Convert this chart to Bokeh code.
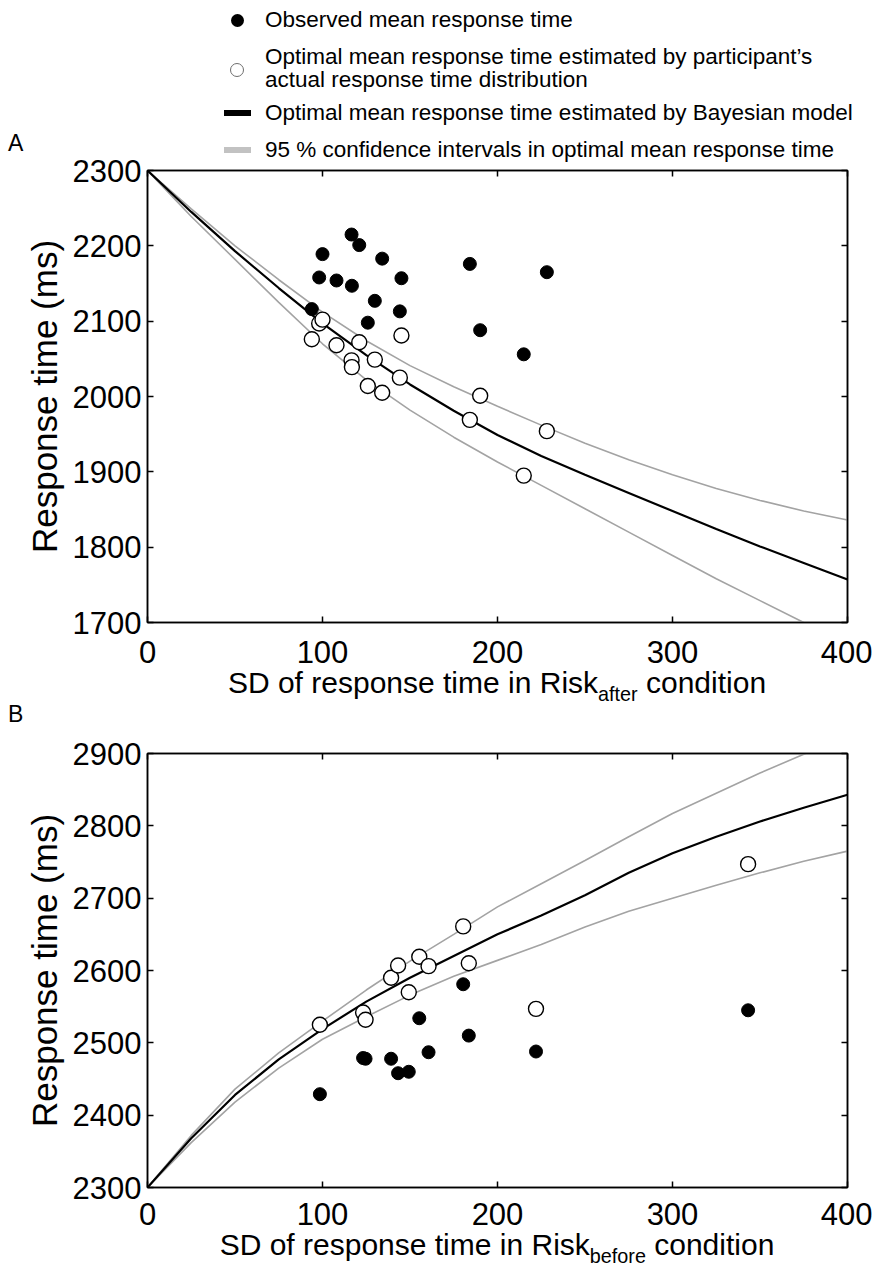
from bokeh.plotting import figure
from bokeh.layouts import column
from bokeh.models import Range1d, LinearAxis, FixedTicker, Div
from bokeh.embed import file_html
from bokeh.resources import INLINE

FONT = "Liberation Sans"

# ---------------- data ----------------
# Panel A: Risk_after
sd_after = [93.9, 98.1, 100.0, 108.0, 116.6, 116.8, 121.0, 125.9, 129.9, 134.1, 144.2, 145.1, 184.2, 190.1, 215.0, 228.2]
obs_after = [2116, 2158, 2189, 2154, 2215, 2147, 2201, 2098, 2127, 2183, 2113, 2157, 2176, 2088, 2056, 2165]
opt_after = [2076, 2097, 2102, 2068, 2048, 2039, 2072, 2014, 2049, 2005, 2025, 2081, 1969, 2001, 1895, 1954]

# Panel B: Risk_before
sd_before = [98.5, 123.2, 124.6, 139.2, 143.2, 149.3, 155.3, 160.6, 180.4, 183.6, 222.0, 343.2]
obs_before = [2429, 2479, 2478, 2478, 2458, 2460, 2534, 2487, 2581, 2510, 2488, 2545]
opt_before = [2525, 2542, 2532, 2590, 2607, 2570, 2619, 2606, 2661, 2610, 2547, 2747]

# model curves (read at SD steps)
curve_sd = [0, 25, 50, 75, 100, 125, 150, 175, 200, 225, 250, 275, 300, 325, 350, 375, 400]
after_model = [2300, 2245, 2193, 2144, 2097, 2055, 2016, 1981, 1949, 1921, 1896, 1872, 1848, 1824, 1801, 1779, 1757]
after_ci_up = [2300, 2249, 2200, 2155, 2112, 2074, 2041, 2013, 1987, 1962, 1938, 1916, 1896, 1878, 1862, 1848, 1836]
after_ci_lo = [2300, 2239, 2182, 2125, 2070, 2022, 1982, 1946, 1913, 1882, 1851, 1820, 1789, 1758, 1729, 1700, 1672]
before_model = [2300, 2368, 2428, 2477, 2519, 2557, 2590, 2620, 2650, 2676, 2704, 2735, 2762, 2785, 2806, 2825, 2843]
before_ci_up = [2300, 2372, 2436, 2486, 2530, 2573, 2613, 2650, 2688, 2720, 2752, 2785, 2817, 2845, 2873, 2899, 2925]
before_ci_lo = [2300, 2362, 2418, 2465, 2505, 2536, 2566, 2592, 2614, 2636, 2660, 2682, 2700, 2718, 2735, 2751, 2765]

x_ticks = [0, 100, 200, 300, 400]
after_ticks = [1700, 1800, 1900, 2000, 2100, 2200, 2300]
before_ticks = [2300, 2400, 2500, 2600, 2700, 2800, 2900]

legend_labels = [
    "Observed mean response time",
    "Optimal mean response time estimated by participant\u2019s",
    "actual response time distribution",
    "Optimal mean response time estimated by Bayesian model",
    "95 % confidence intervals in optimal mean response time",
]

GRAY = "#a3a3a3"
W = 872
LEFT = 147
FRAME_W = 700


def style_axis(ax, ticks, show_labels):
    ax.ticker = FixedTicker(ticks=ticks)
    ax.major_tick_in = 6
    ax.major_tick_out = 0
    ax.minor_tick_line_color = None
    ax.axis_line_width = 1.5
    ax.major_tick_line_width = 1.5
    ax.major_label_text_font = FONT
    ax.major_label_text_font_size = "31px"
    ax.major_label_text_color = "black"
    if not show_labels:
        ax.major_label_overrides = {t: "" for t in ticks}
        ax.major_label_standoff = 0


def panel(model, up, lo, sd, obs, opt, yr, yticks, top, frame_h, bottom, x_standoff):
    p = figure(width=W, height=top + frame_h + bottom, title=None,
               x_range=Range1d(0, 400), y_range=Range1d(*yr),
               output_backend="svg", toolbar_location=None,
               min_border_left=LEFT, min_border_right=W - LEFT - FRAME_W,
               min_border_top=top, min_border_bottom=bottom)
    p.border_fill_color = None
    p.background_fill_color = "white"
    p.grid.visible = False
    p.outline_line_color = "black"
    p.outline_line_width = 1.5
    style_axis(p.xaxis[0], x_ticks, True)
    p.xaxis[0].major_label_standoff = x_standoff
    style_axis(p.yaxis[0], yticks, True)
    p.yaxis[0].major_label_standoff = 6
    p.yaxis[0].axis_label = "Response time (ms)"
    p.yaxis[0].axis_label_text_font = FONT
    p.yaxis[0].axis_label_text_font_size = "35px"
    p.yaxis[0].axis_label_text_font_style = "normal"
    p.yaxis[0].axis_label_text_color = "black"
    p.yaxis[0].axis_label_standoff = 6
    ra = LinearAxis()
    style_axis(ra, yticks, False)
    p.add_layout(ra, "right")
    ta = LinearAxis()
    style_axis(ta, x_ticks, False)
    p.add_layout(ta, "above")

    p.line(curve_sd, up, line_color=GRAY, line_width=1.6)
    p.line(curve_sd, lo, line_color=GRAY, line_width=1.6)
    p.line(curve_sd, model, line_color="black", line_width=2.2)
    p.scatter(sd, obs, size=13, fill_color="black", line_color="black")
    p.scatter(sd, opt, size=15, fill_color="white", line_color="black", line_width=1.4)
    return p


pa = panel(after_model, after_ci_up, after_ci_lo, sd_after, obs_after, opt_after,
           (1700, 2300), after_ticks, 20, 452, 54, 18)
pb = panel(before_model, before_ci_up, before_ci_lo, sd_before, obs_before, opt_before,
           (2300, 2900), before_ticks, 20, 434, 51, 15)


# ---------------- legend (HTML) ----------------
def txt(left, cy, s, size=22.5, lh=24):
    return ("<div style=\"position:absolute;left:%dpx;top:%dpx;font-family:'Liberation Sans';font-size:%.1fpx;"
            "line-height:%dpx;white-space:nowrap;color:black;\">%s</div>" % (left, cy - lh // 2, size, lh, s))


def dot(cx, cy, d, fill, border):
    return ("<div style='position:absolute;left:%.1fpx;top:%.1fpx;width:%dpx;height:%dpx;border-radius:50%%;"
            "background:%s;border:%s;box-sizing:border-box;'></div>" % (cx - d / 2, cy - d / 2, d, d, fill, border))


def bar(x0, cy, w, h, color):
    return ("<div style='position:absolute;left:%dpx;top:%.1fpx;width:%dpx;height:%dpx;background:%s;'></div>"
            % (x0, cy - h / 2, w, h, color))


GX, TX = 237, 265
legend_html = ("<div style='position:relative;width:%dpx;height:165px;'>" % W +
               dot(GX, 20, 13, "black", "none") + txt(TX, 20, legend_labels[0]) +
               dot(GX, 70, 14, "white", "1.2px solid #6e6e6e") + txt(TX, 57, legend_labels[1]) +
               txt(TX, 80, legend_labels[2]) +
               bar(224, 113, 27, 6, "black") + txt(TX, 113, legend_labels[3]) +
               bar(224, 150, 27, 6, "#c2c2c2") + txt(TX, 150, legend_labels[4]) +
               txt(8, 143, "A", 23, 26) +
               "</div>")
div_leg = Div(width=W, height=165, margin=(0, 0, -15, 0), text=legend_html)

title_css = ("position:absolute;left:%dpx;width:%dpx;text-align:center;font-family:'Liberation Sans';"
             "font-size:30px;line-height:20px;color:black;white-space:nowrap;" % (LEFT, FRAME_W))
sub_css = "font-size:0.66em;vertical-align:-0.4em;"
div_a = Div(width=W, height=67, margin=(-10, 0, 0, 0), text=(
    "<div style='position:relative;width:%dpx;height:67px;'>" % W +
    "<div style=\"%stop:7px;\">SD of response time in Risk<span style='%s'>after</span> condition</div>" % (title_css, sub_css) +
    txt(8, 48, "B", 23, 26) +
    "</div>"))
div_b = Div(width=W, height=40, margin=(-10, 0, 0, 0), text=(
    "<div style='position:relative;width:%dpx;height:40px;'>" % W +
    "<div style=\"%stop:7px;\">SD of response time in Risk<span style='%s'>before</span> condition</div>" % (title_css, sub_css) +
    "</div>"))

layout = column(div_leg, pa, div_a, pb, div_b, spacing=0)
open("out.html", "w").write(file_html(layout, INLINE))
